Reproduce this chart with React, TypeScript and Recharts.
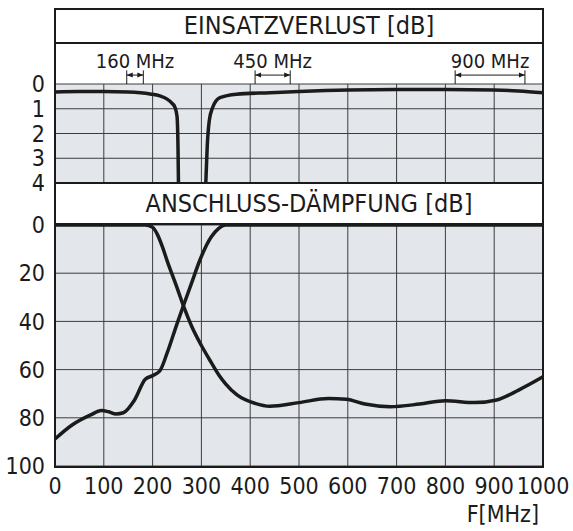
import React from 'react';
import { LineChart, Line, XAxis, YAxis, CartesianGrid, ReferenceLine } from 'recharts';

const W = 573;
const H = 531;
const FONT = "'Liberation Sans Narrow', 'DejaVu Sans Condensed', 'Open Sans', sans-serif";
const INK = '#1b1b1b';
const GRID = '#3c3c3c';
const PANEL = '#e3e6ea';

const freqTicks = [0, 100, 200, 300, 400, 500, 600, 700, 800, 900, 1000];
const lossTicks = [0, 1, 2, 3, 4];
const returnTicks = [0, 20, 40, 60, 80, 100];

// insertion loss, 160 MHz branch
const lossLowF = [0, 50, 100, 150, 195, 215, 229, 240, 246, 250, 252, 253];
const lossLowDb = [0.32, 0.3, 0.3, 0.32, 0.4, 0.48, 0.6, 0.78, 0.95, 1.3, 2.5, 4];

// insertion loss, 450/900 MHz branch
const lossHighF = [309, 312, 316, 323, 338, 372, 440, 500, 600, 700, 800, 900, 950, 1000];
const lossHighDb = [4, 2.5, 1.5, 0.95, 0.55, 0.41, 0.35, 0.3, 0.24, 0.22, 0.22, 0.24, 0.28, 0.35];

// return loss, curve starting at 0 dB on the left
const retAF = [0, 100, 185, 200, 210, 220, 230, 250, 264, 280, 300, 320, 335, 350, 373, 410, 440, 500, 560, 597, 635, 687, 747, 800, 860, 905, 950, 1000];
const retADb = [0, 0, 0, 1, 4, 9, 15, 26, 34, 42, 50, 57, 62, 66, 70.5, 74, 75.2, 73.7, 72, 72.3, 74.3, 75.4, 74.3, 72.9, 73.7, 72.6, 68.5, 63];

// return loss, curve starting at ~88 dB on the left
const retBF = [0, 35, 73, 95, 110, 125, 140, 163, 185, 200, 215, 230, 250, 264, 280, 298, 320, 335, 350, 400, 500, 600, 700, 800, 900, 1000];
const retBDb = [88.8, 83, 78.8, 77, 77.5, 78.4, 77.9, 72.6, 64, 62.5, 60.5, 53, 41, 33, 24, 14, 5, 1.5, 0, 0, 0, 0, 0, 0, 0, 0];

const bandLabels = ['160 MHz', '450 MHz', '900 MHz'];
const bandStart = [147, 410, 820];
const bandEnd = [181, 482, 963];

const toRows = (f: number[], v: number[]) => f.map((x, i) => ({ f: x, v: v[i] }));

const lossLow = toRows(lossLowF, lossLowDb);
const lossHigh = toRows(lossHighF, lossHighDb);
const retA = toRows(retAF, retADb);
const retB = toRows(retBF, retBDb);

const ArrowShape = (p: any) => {
  const { x1, x2, y1 } = p;
  const h = 6;
  return (
    <g>
      <line x1={x1} y1={y1} x2={x2} y2={y1} stroke={INK} strokeWidth={1} />
      <path d={`M${x1},${y1} L${x1 + h},${y1 - 2.5} L${x1 + h},${y1 + 2.5} Z`} fill={INK} />
      <path d={`M${x2},${y1} L${x2 - h},${y1 - 2.5} L${x2 - h},${y1 + 2.5} Z`} fill={INK} />
    </g>
  );
};

const tickStyle = { fontSize: 23, fill: INK, fontFamily: FONT };

const abs: React.CSSProperties = { position: 'absolute', left: 0, top: 0 };

const titleBox: React.CSSProperties = {
  position: 'absolute',
  left: 54,
  width: 490,
  border: `2px solid ${INK}`,
  boxSizing: 'border-box',
  background: '#fff',
  fontSize: 25,
  color: INK,
  textAlign: 'center',
  paddingLeft: 20,
};

export default function App() {
  return (
    <div style={{ position: 'absolute', left: 0, top: 0, width: W, height: H, background: '#fff', fontFamily: FONT }}>
      <div style={abs}>
        <LineChart width={W} height={H} margin={{ top: 84, right: 30, bottom: H - 183, left: 0 }}>
          <CartesianGrid stroke={GRID} strokeWidth={1} fill={PANEL} fillOpacity={1} />
          <XAxis dataKey="f" type="number" domain={[0, 1000]} ticks={freqTicks} hide />
          <YAxis
            type="number"
            domain={[0, 4]}
            ticks={lossTicks}
            reversed
            width={55}
            axisLine={false}
            tickLine={false}
            tickSize={0}
            tickMargin={10}
            interval={0}
            tick={tickStyle}
          />
          {bandLabels.map((lab, i) => (
            <ReferenceLine
              key={lab}
              segment={[{ x: bandStart[i], y: -0.36 }, { x: bandEnd[i], y: -0.36 }]}
              ifOverflow="visible"
              shape={ArrowShape}
              label={{ value: lab, position: 'top', offset: 7, fontSize: 20, fill: INK, fontFamily: FONT }}
            />
          ))}
          {bandLabels.map((lab, i) => (
            <ReferenceLine key={lab + 's'} segment={[{ x: bandStart[i], y: -0.55 }, { x: bandStart[i], y: 0 }]} ifOverflow="visible" stroke={INK} strokeWidth={1} />
          ))}
          {bandLabels.map((lab, i) => (
            <ReferenceLine key={lab + 'e'} segment={[{ x: bandEnd[i], y: -0.55 }, { x: bandEnd[i], y: 0 }]} ifOverflow="visible" stroke={INK} strokeWidth={1} />
          ))}
          <Line data={lossLow} dataKey="v" type="monotone" stroke={INK} strokeWidth={3.5} dot={false} isAnimationActive={false} />
          <Line data={lossHigh} dataKey="v" type="monotone" stroke={INK} strokeWidth={3.5} dot={false} isAnimationActive={false} />
        </LineChart>
      </div>
      <div style={abs}>
        <LineChart width={W} height={H} margin={{ top: 225, right: 30, bottom: 5, left: 0 }}>
          <CartesianGrid stroke={GRID} strokeWidth={1} fill={PANEL} fillOpacity={1} />
          <XAxis
            dataKey="f"
            type="number"
            domain={[0, 1000]}
            ticks={freqTicks}
            interval={0}
            height={60}
            axisLine={false}
            tickLine={false}
            tickSize={0}
            tickMargin={12}
            tick={tickStyle}
            label={{ value: 'F[MHz]', position: 'insideBottomRight', offset: 4, fontSize: 23, fill: INK, fontFamily: FONT }}
          />
          <YAxis
            type="number"
            domain={[0, 100]}
            ticks={returnTicks}
            reversed
            width={55}
            axisLine={false}
            tickLine={false}
            tickSize={0}
            tickMargin={10}
            interval={0}
            tick={tickStyle}
          />
          <Line data={retA} dataKey="v" type="monotone" stroke={INK} strokeWidth={3.5} dot={false} isAnimationActive={false} />
          <Line data={retB} dataKey="v" type="monotone" stroke={INK} strokeWidth={3.5} dot={false} isAnimationActive={false} />
        </LineChart>
      </div>
      {/* outer frame */}
      <div style={{ position: 'absolute', left: 54, top: 8, width: 490, height: 460, border: `2px solid ${INK}`, boxSizing: 'border-box', pointerEvents: 'none' }} />
      {/* panel titles */}
      <div style={{ ...titleBox, top: 8, height: 36, lineHeight: '32px' }}>EINSATZVERLUST [dB]</div>
      <div style={{ ...titleBox, top: 182, height: 43, lineHeight: '39px' }}>ANSCHLUSS-DÄMPFUNG [dB]</div>
    </div>
  );
}
